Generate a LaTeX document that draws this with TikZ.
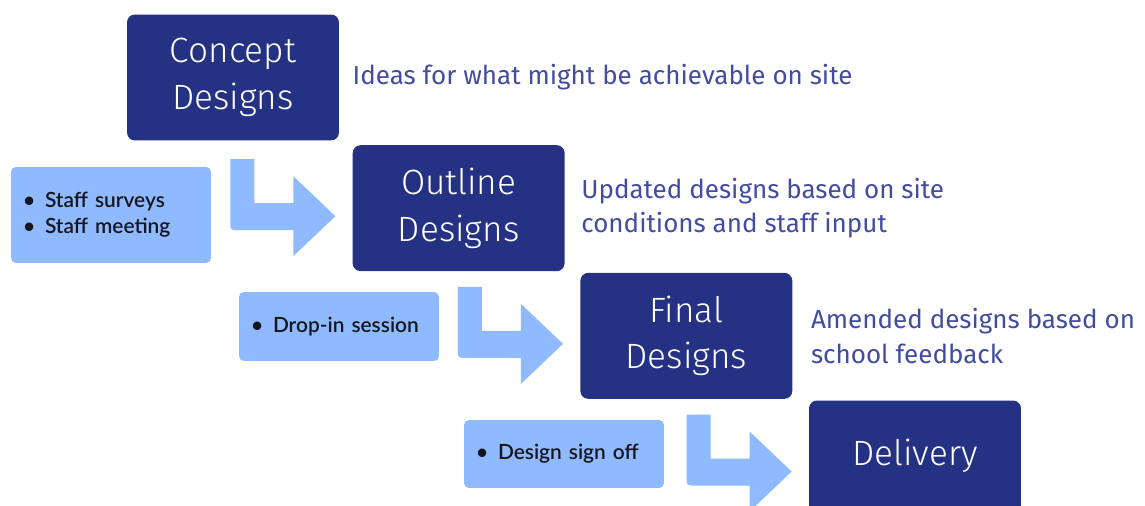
\documentclass[tikz,border=0pt]{standalone}
\usepackage{fontspec}
\setmainfont{Lato}[BoldFont={Lato Semibold}]
\newfontfamily\stagefont{Fira Sans Light}
\newfontfamily\notefont{Fira Sans}
\usepackage{tikz}
\usepackage{xcolor}
\usetikzlibrary{calc,positioning}
\definecolor{Navy}{RGB}{37,49,131}
\definecolor{SkyCol}{RGB}{143,186,255}
\definecolor{NoteCol}{RGB}{66,76,160}
\definecolor{InkCol}{RGB}{22,22,30}
\tikzset{
  dsstage/.style={rectangle, rounded corners=4.5pt, fill=Navy, text=white, minimum width=4.24cm, minimum height=2.52cm, align=center, inner sep=0pt, font=\stagefont\fontsize{20}{26.6}\selectfont},
  dsnote/.style={inner sep=0pt, align=left, text=NoteCol, font=\notefont\fontsize{14.8}{19.8}\selectfont},
  dsbox/.style={rectangle, rounded corners=2.8pt, fill=SkyCol, text=InkCol, minimum width=4cm, text width=3.52cm, inner xsep=0.24cm, inner ysep=0pt, align=left, font=\fontsize{11.9}{14.7}\selectfont\bfseries},
  dsarrow/.style={fill=SkyCol}
}
\newcommand{\DSBul}{\makebox[0.44cm][l]{\textbullet}}
\newcommand{\DSArrow}[1]{%
  \begin{scope}[shift={($(#1.west)+(-17,8)$)}]
    \fill[dsarrow] (-105,-57) -- (-81,-57) -- (-81,-13) -- (-42,-13) -- (-42,-40) -- (0,0)
      -- (-42,40) -- (-42,14) -- (-97,14) .. controls (-105,14) .. (-105,6) -- cycle;
  \end{scope}}

\begin{document}
\begin{tikzpicture}[x=0.02cm,y=-0.02cm]
  \useasboundingbox (0,0) rectangle (1145,506);
  \clip (0,0) rectangle (1145,506);
  \node[dsstage] (concept) at (233,77.5) {Concept\\Designs};
  \node[dsstage,below right=0.08cm and 0.26cm of concept] (outline) {Outline\\Designs};
  \node[dsstage,below right=0.02cm and 0.30cm of outline] (final) {Final\\Designs};
  \node[dsstage,below right=0.02cm and 0.32cm of final] (delivery) {\raisebox{0.46cm}{Delivery}};
  \node[dsnote,right=0.26cm of concept] (ideas) {Ideas for what might be achievable on site};
  \node[dsnote,right=0.32cm of outline] (updated) {Updated designs based on site\\conditions and staff input};
  \node[dsnote,right=0.36cm of final] (amended) {Amended designs based on\\school feedback};
  \node[dsbox,minimum height=1.92cm] (staff) at (111,215) {\DSBul Staff surveys\\\DSBul Staff meeting};
  \node[dsbox,minimum height=1.38cm] (dropin) at (339,326.5) {\DSBul Drop-in session};
  \node[dsbox,minimum height=1.36cm] (signoff) at (564,454) {\DSBul Design sign off};
  \DSArrow{outline}\DSArrow{final}\DSArrow{delivery}
\end{tikzpicture}
\end{document}
